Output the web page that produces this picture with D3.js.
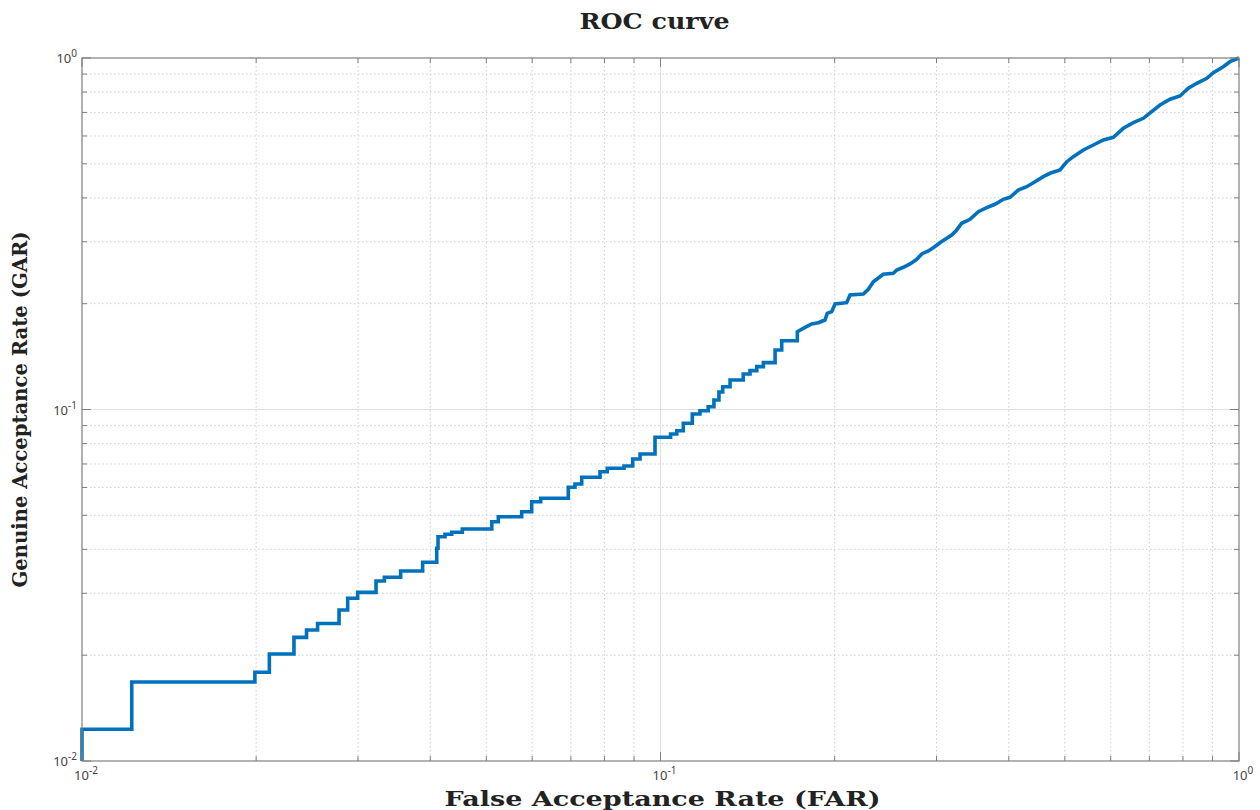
<!DOCTYPE html>
<html>
<head>
<meta charset="utf-8">
<script src="https://cdn.jsdelivr.net/npm/d3@7"></script>
<style>
  html, body { margin: 0; padding: 0; background: #fff; }
  svg { display: block; }
</style>
</head>
<body>
<svg id="chart" width="1260" height="810"></svg>
<script>
// ---- Data ----
const chartTitle = "ROC curve";
const xLabel = "False Acceptance Rate (FAR)";
const yLabel = "Genuine Acceptance Rate (GAR)";
const xTickExps = [-2, -1, 0];
const yTickExps = [-2, -1, 0];

// Coarse staircase part of the ROC curve (low FAR): step at FAR value to new GAR level
const farSteps = [
  0.01, 0.01, 0.01219, 0.0199, 0.02108, 0.02325, 0.02444, 0.02554, 0.02782, 0.02879,
  0.02996, 0.03223, 0.03332, 0.03555, 0.0388, 0.04104, 0.04125, 0.04241, 0.04356, 0.04544,
  0.05109, 0.05244, 0.05755, 0.05989, 0.06208, 0.06928, 0.07116, 0.07308, 0.07861, 0.08091,
  0.08648, 0.08953, 0.09218, 0.09784, 0.1041, 0.1067, 0.1095, 0.1135, 0.1170, 0.1209,
  0.1237, 0.1262, 0.1281, 0.1319, 0.1390, 0.1428, 0.1467, 0.1506, 0.1578, 0.1620,
  0.1724
];
const garSteps = [
  0.01, 0.01231, 0.01678, 0.01788, 0.02016, 0.02248, 0.02359, 0.02461, 0.02689, 0.02903,
  0.03019, 0.03252, 0.03332, 0.03472, 0.03675, 0.04029, 0.04347, 0.04416, 0.04473, 0.04571,
  0.04795, 0.04955, 0.0512, 0.05467, 0.0559, 0.06007, 0.06138, 0.06413, 0.06653, 0.06803,
  0.06907, 0.07231, 0.07472, 0.08334, 0.08517, 0.08703, 0.09135, 0.0971, 0.09922, 0.1018,
  0.1064, 0.1121, 0.1161, 0.1213, 0.1262, 0.129, 0.1324, 0.1359, 0.1477, 0.1569,
  0.1665
];
// Fine-grained part of the ROC curve (high FAR), tiny steps traced point by point
const farFine = [
  0.1724, 0.1765, 0.1825, 0.1874, 0.1924, 0.1942, 0.1977, 0.2003, 0.2098, 0.2126,
  0.2242, 0.2287, 0.2333, 0.2396, 0.2427, 0.2526, 0.2561, 0.2629, 0.2700, 0.2773,
  0.2829, 0.2904, 0.2962, 0.3063, 0.3187, 0.3251, 0.3316, 0.3428, 0.3543, 0.3663,
  0.3786, 0.3913, 0.4019, 0.4154, 0.4295, 0.4440, 0.4589, 0.4713, 0.4905, 0.5038,
  0.5172, 0.5382, 0.5601, 0.5828, 0.6064, 0.6310, 0.6567, 0.6833, 0.7064, 0.7303,
  0.7599, 0.7907, 0.8174, 0.8452, 0.8798, 0.9029, 0.9395, 0.9647, 1.0
];
const garFine = [
  0.1665, 0.1702, 0.1751, 0.1766, 0.1797, 0.1878, 0.1898, 0.1996, 0.2013, 0.2117,
  0.2131, 0.2198, 0.2310, 0.2387, 0.2425, 0.2441, 0.2494, 0.2539, 0.2594, 0.2675,
  0.2770, 0.2825, 0.2886, 0.3006, 0.3137, 0.3242, 0.3387, 0.3477, 0.3654, 0.3751,
  0.3836, 0.3963, 0.4015, 0.4212, 0.4304, 0.4447, 0.4596, 0.4699, 0.4802, 0.5070,
  0.5239, 0.5474, 0.5656, 0.5845, 0.5949, 0.6310, 0.6545, 0.6737, 0.7035, 0.7350,
  0.7631, 0.7798, 0.8200, 0.8472, 0.8755, 0.9082, 0.9447, 0.9761, 1.0
];

// ---- Layout ----
const svg = d3.select("#chart");
const pLeft = 82, pRight = 1239, pTop = 58, pBottom = 761;
const x = d3.scaleLog().domain([0.01, 1]).range([pLeft, pRight]);
const y = d3.scaleLog().domain([0.01, 1]).range([pBottom, pTop]);

const axisColor = "#7f7f7f";
const minorVals = [];
for (let d = -2; d < 0; d++) for (let m = 2; m <= 9; m++) minorVals.push(m * Math.pow(10, d));
const majorVals = xTickExps.map(e => Math.pow(10, e));

// Grid
const grid = svg.append("g");
grid.selectAll(".mx").data(minorVals).join("line")
  .attr("x1", d => x(d)).attr("x2", d => x(d)).attr("y1", pTop).attr("y2", pBottom)
  .attr("stroke", "#cfcfcf").attr("stroke-width", 1).attr("stroke-dasharray", "1.5,2.5");
grid.selectAll(".my").data(minorVals).join("line")
  .attr("y1", d => y(d)).attr("y2", d => y(d)).attr("x1", pLeft).attr("x2", pRight)
  .attr("stroke", "#cfcfcf").attr("stroke-width", 1).attr("stroke-dasharray", "1.5,2.5");
grid.selectAll(".Mx").data(majorVals.slice(1, -1)).join("line")
  .attr("x1", d => x(d)).attr("x2", d => x(d)).attr("y1", pTop).attr("y2", pBottom)
  .attr("stroke", "#e0e0e0").attr("stroke-width", 1);
grid.selectAll(".My").data(majorVals.slice(1, -1)).join("line")
  .attr("y1", d => y(d)).attr("y2", d => y(d)).attr("x1", pLeft).attr("x2", pRight)
  .attr("stroke", "#e0e0e0").attr("stroke-width", 1);

// Curve
const stepPts = farSteps.map((f, i) => [f, garSteps[i]]);
const finePts = farFine.map((f, i) => [f, garFine[i]]);
const stepLine = d3.line().x(d => x(d[0])).y(d => y(d[1])).curve(d3.curveStepAfter);
const fineLine = d3.line().x(d => x(d[0])).y(d => y(d[1])).curve(d3.curveLinear);
svg.append("path")
  .attr("fill", "none")
  .attr("stroke", "#0072BD")
  .attr("stroke-width", 3.6)
  .attr("stroke-linejoin", "miter")
  .attr("d", stepLine(stepPts) + fineLine(finePts).replace(/^M/, "L"));

// Axes with inward ticks on all sides (box)
const ax = svg.append("g").attr("stroke", axisColor).attr("fill", "none");
ax.append("rect").attr("x", pLeft).attr("y", pTop).attr("width", pRight - pLeft).attr("height", pBottom - pTop)
  .attr("stroke-width", 1.2);
const minorLen = 5, majorLen = 9;
function ticks(vals, len) {
  vals.forEach(v => {
    const xv = x(v), yv = y(v);
    ax.append("line").attr("x1", xv).attr("x2", xv).attr("y1", pBottom).attr("y2", pBottom - len);
    ax.append("line").attr("x1", xv).attr("x2", xv).attr("y1", pTop).attr("y2", pTop + len);
    ax.append("line").attr("y1", yv).attr("y2", yv).attr("x1", pLeft).attr("x2", pLeft + len);
    ax.append("line").attr("y1", yv).attr("y2", yv).attr("x1", pRight).attr("x2", pRight - len);
  });
}
ticks(minorVals, minorLen);
ticks(majorVals, majorLen);

// Tick labels
const tickFont = "'Noto Sans', 'DejaVu Sans', sans-serif";
function powLabel(g, e, px, py, anchor) {
  const t = g.append("text").attr("x", px).attr("y", py).attr("text-anchor", anchor)
    .attr("font-family", tickFont).attr("font-size", 13).attr("fill", "#444");
  t.append("tspan").text("10");
  t.append("tspan").attr("dy", -6).attr("font-size", 10).text(String(e));
}
const lbl = svg.append("g");
xTickExps.forEach(e => powLabel(lbl, e, x(Math.pow(10, e)) + 4, pBottom + 19, "middle"));
yTickExps.forEach(e => powLabel(lbl, e, pLeft - 5, y(Math.pow(10, e)) + 5, "end"));

// Titles
const serif = "'DejaVu Serif', 'Liberation Serif', serif";
svg.append("text").attr("x", (pLeft + pRight) / 2 - 6).attr("y", 29).attr("text-anchor", "middle")
  .attr("font-family", serif).attr("font-weight", "bold").attr("font-size", 22).attr("fill", "#222")
  .attr("textLength", 150).attr("lengthAdjust", "spacingAndGlyphs")
  .text(chartTitle);
svg.append("text").attr("x", (pLeft + pRight) / 2 + 2).attr("y", 806).attr("text-anchor", "middle")
  .attr("font-family", serif).attr("font-weight", "bold").attr("font-size", 20).attr("fill", "#222")
  .attr("textLength", 436).attr("lengthAdjust", "spacingAndGlyphs")
  .text(xLabel);
svg.append("text").attr("transform", `translate(27, ${(pTop + pBottom) / 2}) rotate(-90)`)
  .attr("text-anchor", "middle")
  .attr("font-family", serif).attr("font-weight", "bold").attr("font-size", 21).attr("fill", "#222")
  .attr("textLength", 356).attr("lengthAdjust", "spacingAndGlyphs")
  .text(yLabel);
</script>
</body>
</html>
